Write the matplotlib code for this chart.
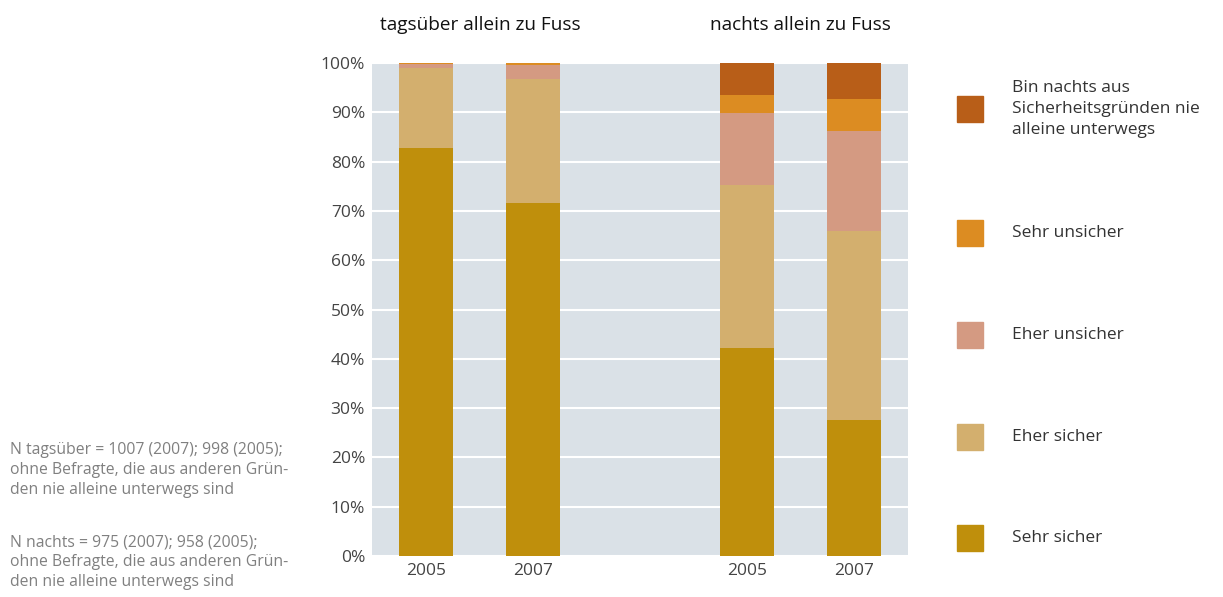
import matplotlib.pyplot as plt
import numpy as np

plt.rcParams['font.family'] = ['Open Sans', 'DejaVu Sans']

years = ['2005', '2007', '2005', '2007']
xpos = [0, 1, 3, 4]
categories = ['Sehr sicher', 'Eher sicher', 'Eher unsicher', 'Sehr unsicher',
              'Bin nachts aus\nSicherheitsgründen nie\nalleine unterwegs']
sehr_sicher = [82.8, 71.6, 42.2, 27.6]
eher_sicher = [16.2, 25.2, 33.1, 38.3]
eher_unsicher = [0.8, 2.8, 14.6, 20.3]
sehr_unsicher = [0.2, 0.4, 3.6, 6.5]
bin_nicht = [0.0, 0.0, 6.5, 7.3]
colors = ['#BF8F0C', '#D3AF6E', '#D49A82', '#DC8C22', '#B85E18']

fig = plt.figure(figsize=(12.23, 5.97), dpi=100)
ax = fig.add_axes([372/1223, 1-556/597, 536/1223, 493/597])
ax.set_facecolor('#DAE1E7')

bottom = np.zeros(4)
for vals, col in zip([sehr_sicher, eher_sicher, eher_unsicher, sehr_unsicher, bin_nicht], colors):
    ax.bar(xpos, vals, 0.5, bottom=bottom, color=col, zorder=3)
    bottom += np.array(vals)

ax.set_xlim(-0.505, 4.505)
ax.set_ylim(0, 100)
ax.set_yticks(range(0, 101, 10))
ax.set_yticklabels([f'{v}%' for v in range(0, 101, 10)], fontsize=12.5, color='#444444')
ax.set_xticks(xpos)
ax.set_xticklabels(years, fontsize=12.5, color='#444444')
ax.tick_params(length=0, pad=5)
ax.grid(axis='y', color='white', lw=1.5, zorder=1)
for s in ax.spines.values():
    s.set_visible(False)

fig.text(480/1223, 1-25/597, 'tagsüber allein zu Fuss', ha='center', va='center',
         fontsize=13.7, color='#111111')
fig.text(800/1223, 1-25/597, 'nachts allein zu Fuss', ha='center', va='center',
         fontsize=13.7, color='#111111')

# legend
leg_y = [538, 437, 335, 233, 109]
for lab, col, yy in zip(categories, colors, leg_y):
    fig.patches.append(plt.Rectangle((957/1223, 1-(yy+13)/597), 26/1223, 26/597,
                                     transform=fig.transFigure, color=col))
    fig.text(1012/1223, 1-yy/597, lab, ha='left', va='center', fontsize=12.5,
             color='#333333', linespacing=1.45)

note1 = 'N tagsüber = 1007 (2007); 998 (2005);\nohne Befragte, die aus anderen Grün-\nden nie alleine unterwegs sind'
note2 = 'N nachts = 975 (2007); 958 (2005);\nohne Befragte, die aus anderen Grün-\nden nie alleine unterwegs sind'
fig.text(10/1223, 1-470/597, note1, ha='left', va='center', fontsize=11.3,
         color='#808080', linespacing=1.3)
fig.text(10/1223, 1-562/597, note2, ha='left', va='center', fontsize=11.3,
         color='#808080', linespacing=1.3)

fig.savefig('out.png', dpi=100)
